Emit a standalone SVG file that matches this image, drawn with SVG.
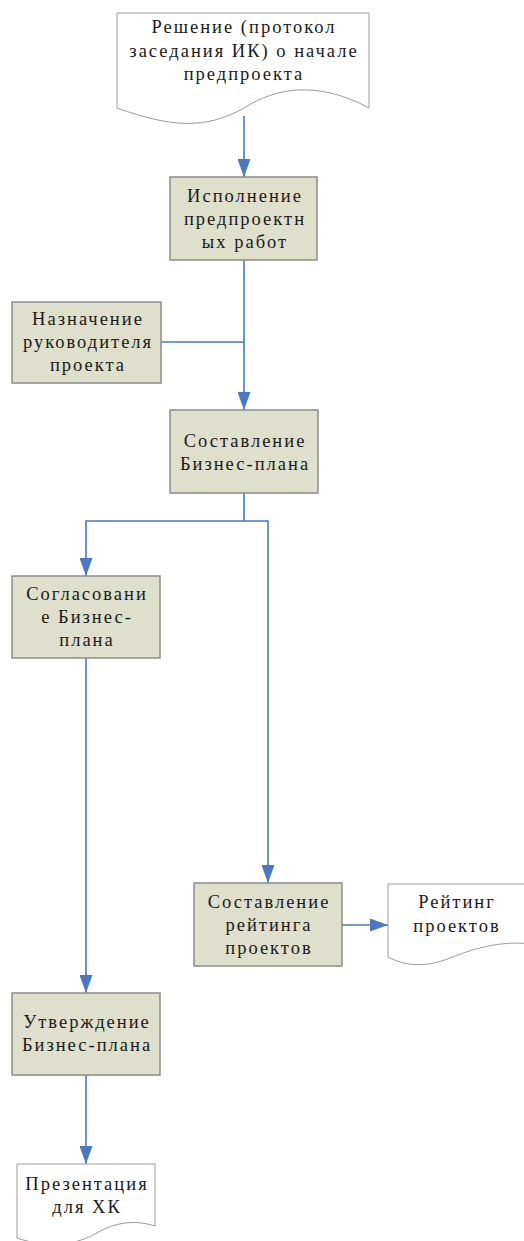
<svg xmlns="http://www.w3.org/2000/svg" width="524" height="1241" viewBox="0 0 524 1241">
  <style>
    .box { fill: #dee0cc; stroke: #8c8c8c; stroke-width: 1.5; }
    .doc { fill: #ffffff; stroke: #9a9a9a; stroke-width: 1; }
    .lbl { font-family: "Liberation Serif", Times, "DejaVu Serif", serif; font-size: 18.5px; letter-spacing: 2px; fill: #1a1a1a; text-anchor: middle; }
    .wire { fill: none; stroke: #4a78c4; stroke-width: 1.6; }
  </style>
  <defs>
    <marker id="arrow" viewBox="0 0 18 13" refX="18" refY="6.5" markerWidth="18" markerHeight="13" markerUnits="userSpaceOnUse" orient="auto">
      <path d="M0,0 L18,6.5 L0,13 Z" fill="#4a78c4"/>
    </marker>
  </defs>

  <rect width="524" height="1241" fill="#ffffff"/>

  <!-- connectors -->
  <g id="connectors">
    <path class="wire" d="M244,116 V177" marker-end="url(#arrow)"/>
    <path class="wire" d="M244,260 V410" marker-end="url(#arrow)"/>
    <path class="wire" d="M161,342 H244"/>
    <path class="wire" d="M244,493 V521 H86 V576" marker-end="url(#arrow)"/>
    <path class="wire" d="M244,521 H268 V883" marker-end="url(#arrow)"/>
    <path class="wire" d="M342,925 H388" marker-end="url(#arrow)"/>
    <path class="wire" d="M86,658 V993" marker-end="url(#arrow)"/>
    <path class="wire" d="M86,1075 V1164" marker-end="url(#arrow)"/>
  </g>

  <!-- decision document -->
  <g id="doc-decision">
    <path class="doc" d="M117,108 V13 H369 V108 C317,80 275,88 244,108 C205,130 170,127 117,108 Z"/>
    <text class="lbl" x="244" y="33">Решение (протокол</text>
    <text class="lbl" x="244" y="57">заседания ИК) о начале</text>
    <text class="lbl" x="244" y="80">предпроекта</text>
  </g>

  <g id="node-preproject">
    <rect class="box" x="170" y="177" width="147" height="83"/>
    <text class="lbl" x="245" y="202">Исполнение</text>
    <text class="lbl" x="245" y="225">предпроектн</text>
    <text class="lbl" x="245" y="248">ых работ</text>
  </g>

  <g id="node-manager">
    <rect class="box" x="12" y="302" width="149" height="81"/>
    <text class="lbl" x="88" y="325">Назначение</text>
    <text class="lbl" x="88" y="348">руководителя</text>
    <text class="lbl" x="88" y="371">проекта</text>
  </g>

  <g id="node-bplan">
    <rect class="box" x="170" y="410" width="148" height="83"/>
    <text class="lbl" x="245" y="447">Составление</text>
    <text class="lbl" x="245" y="470">Бизнес-плана</text>
  </g>

  <g id="node-approval">
    <rect class="box" x="12" y="576" width="148" height="82"/>
    <text class="lbl" x="87" y="600">Согласовани</text>
    <text class="lbl" x="87" y="623">е Бизнес-</text>
    <text class="lbl" x="87" y="646">плана</text>
  </g>

  <g id="node-rating">
    <rect class="box" x="194" y="883" width="148" height="83"/>
    <text class="lbl" x="269" y="908">Составление</text>
    <text class="lbl" x="269" y="931">рейтинга</text>
    <text class="lbl" x="269" y="954">проектов</text>
  </g>

  <g id="doc-rating">
    <path class="doc" d="M388,957 V884 H530 V944 C500,940 470,950 450,958 C425,968 405,966 388,957 Z"/>
    <text class="lbl" x="457" y="908">Рейтинг</text>
    <text class="lbl" x="457" y="932">проектов</text>
  </g>

  <g id="node-confirm">
    <rect class="box" x="12" y="993" width="148" height="82"/>
    <text class="lbl" x="87" y="1028">Утверждение</text>
    <text class="lbl" x="87" y="1051">Бизнес-плана</text>
  </g>

  <g id="doc-presentation">
    <path class="doc" d="M17,1238 V1164 H155 V1226 C130,1218 110,1225 95,1234 C70,1248 40,1246 17,1238 Z"/>
    <text class="lbl" x="87" y="1190">Презентация</text>
    <text class="lbl" x="87" y="1213">для ХК</text>
  </g>
</svg>
